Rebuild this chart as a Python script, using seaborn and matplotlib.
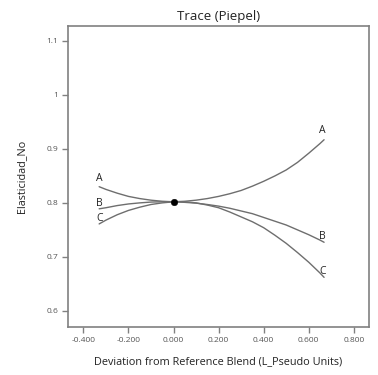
import matplotlib
matplotlib.use("Agg")
import matplotlib.pyplot as plt
import seaborn as sns
import pandas as pd

# Data
x_dev = [-0.33, -0.30, -0.25, -0.20, -0.15, -0.10, -0.05, 0.0, 0.05, 0.10, 0.15,
         0.20, 0.25, 0.30, 0.35, 0.40, 0.45, 0.50, 0.55, 0.60, 0.65, 0.668]
comp_A = [0.830, 0.825, 0.818, 0.812, 0.808, 0.805, 0.803, 0.802, 0.803, 0.805, 0.808,
          0.812, 0.817, 0.823, 0.831, 0.840, 0.850, 0.861, 0.875, 0.892, 0.910, 0.917]
comp_B = [0.789, 0.791, 0.795, 0.798, 0.800, 0.8015, 0.802, 0.802, 0.801, 0.7995, 0.797,
          0.794, 0.790, 0.785, 0.780, 0.773, 0.766, 0.759, 0.750, 0.741, 0.731, 0.727]
comp_C = [0.761, 0.768, 0.778, 0.786, 0.792, 0.797, 0.800, 0.802, 0.802, 0.800, 0.796,
          0.791, 0.783, 0.774, 0.765, 0.754, 0.740, 0.725, 0.708, 0.690, 0.670, 0.662]
ref_x = [0.0]
ref_y = [0.802]
x_ticks = [-0.4, -0.2, 0.0, 0.2, 0.4, 0.6, 0.8]
x_tick_labels = ["-0.400", "-0.200", "0.000", "0.200", "0.400", "0.600", "0.800"]
y_ticks = [0.6, 0.7, 0.8, 0.9, 1.0, 1.1]
y_tick_labels = ["0.6", "0.7", "0.8", "0.9", "1", "1.1"]

df = pd.DataFrame({
    "x": x_dev * 3,
    "y": comp_A + comp_B + comp_C,
    "comp": ["A"] * len(x_dev) + ["B"] * len(x_dev) + ["C"] * len(x_dev),
})

sns.set_style("white")
plt.rcParams["font.family"] = ["Open Sans", "DejaVu Sans"]

fig = plt.figure(figsize=(3.78, 3.75), dpi=100)
ax = fig.add_axes([0.180, 0.128, 0.796, 0.803])

line_color = "#6e6e6e"
sns.lineplot(data=df, x="x", y="y", hue="comp", palette={"A": line_color, "B": line_color, "C": line_color},
             legend=False, linewidth=1.0, ax=ax, sort=True)
sns.scatterplot(x=ref_x, y=ref_y, color="black", s=22, ax=ax, zorder=5, edgecolor="black")

# curve end labels
label_offsets = {
    "A": [(0, 2), (-1, 3)],
    "B": [(0, 0), (-1, 0)],
    "C": [(0, 0), (-1, 0)],
}
series = {"A": comp_A, "B": comp_B, "C": comp_C}
for name, vals in series.items():
    (lx, ly), (rx, ry) = label_offsets[name]
    ax.annotate(name, (x_dev[0], vals[0]), xytext=(lx, ly), textcoords="offset points",
                ha="center", va="bottom", fontsize=7.5, color="#222222")
    ax.annotate(name, (x_dev[-1], vals[-1]), xytext=(rx, ry), textcoords="offset points",
                ha="center", va="bottom", fontsize=7.5, color="#222222")

ax.set_xlim(-0.468, 0.867)
ax.set_ylim(0.570, 1.128)
ax.set_xticks(x_ticks)
ax.set_xticklabels(x_tick_labels)
ax.set_yticks(y_ticks)
ax.set_yticklabels(y_tick_labels)

for s in ax.spines.values():
    s.set_color("#808080")
    s.set_linewidth(1.2)
ax.tick_params(axis="both", direction="out", length=4, width=1.0, color="#808080",
               labelsize=6, labelcolor="#555555", pad=3, left=True, bottom=True)

ax.set_title("Trace (Piepel)", fontsize=9.5, color="#222222", pad=4)
ax.set_xlabel("Deviation from Reference Blend (L_Pseudo Units)", fontsize=7.8, color="#222222", labelpad=9)
ax.set_ylabel("Elasticidad_No", fontsize=7.8, color="#222222", labelpad=14)

fig.savefig("out.png", dpi=100)
